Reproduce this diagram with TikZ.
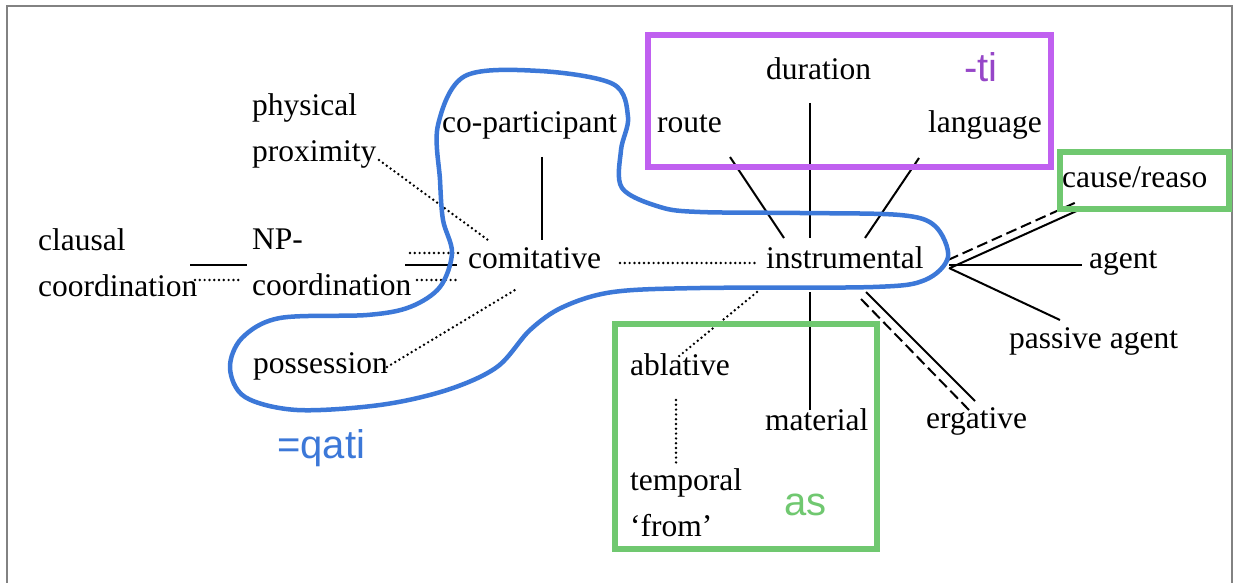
\documentclass[tikz,border=0pt]{standalone}
\usepackage{fontspec}
\setmainfont{Liberation Serif}
\newfontfamily\annfont{Liberation Sans}
\definecolor{qblue}{RGB}{60,120,216}
\definecolor{tiboxc}{RGB}{192,96,240}
\definecolor{titextc}{RGB}{150,70,200}
\definecolor{asgreen}{RGB}{112,200,112}
\definecolor{framegray}{RGB}{130,130,130}
\begin{document}
\begin{tikzpicture}[x=1pt,y=-1pt,
  lbl/.style={inner sep=0pt, anchor=base west, font=\fontsize{31.5}{46}\selectfont},
  lbltwo/.style={inner sep=0pt, anchor=north west, align=left, font=\fontsize{31.5}{46}\selectfont},
  solidline/.style={line width=2pt},
  dotline/.style={line width=2.7pt, line cap=round, dash pattern=on 0pt off 4.8pt},
  dashline/.style={line width=2pt, dash pattern=on 11pt off 5pt},
  ann/.style={inner sep=0pt, anchor=base west, font=\annfont\fontsize{40}{40}\selectfont},
  boxline/.style={line width=6.5pt},
]
\useasboundingbox (0,0) rectangle (1234,583);
\fill[white] (0,0) rectangle (1234,583);
\draw[framegray, line width=1.5pt] (7,583) -- (7,6) -- (1232,6) -- (1232,583);

% labels
\node[lbltwo] (phys) at (252,93.5) {physical\\proximity};
\node[lbltwo] (claus) at (38,228.5) {clausal\\coordination};
\node[lbltwo] (npco) at (252,229) {NP-\\coordination};
\node[lbl] (copart) at (442,133) {co-participant};
\node[lbl] (comit) at (468,268) {comitative};
\node[lbl] (instr) at (766,268) {instrumental};
\node[lbl] (route) at (657,133) {route};
\node[lbl] (dur) at (766,80) {duration};
\node[lbl] (lang) at (928,133) {language};
\node[lbl] (cause) at (1062,187) {cause/reaso};
\node[lbl] (agent) at (1089,268) {agent};
\node[lbl] (pass) at (1009,348) {passive agent};
\node[lbl] (poss) at (253,373) {possession};
\node[lbl] (abl) at (630,375) {ablative};
\node[lbl] (mat) at (765,430) {material};
\node[lbl] (erg) at (926,428) {ergative};
\node[lbltwo] (temp) at (630,468.5) {temporal\\‘from’};

% connector end points
\coordinate (hub) at (949,265);
\coordinate (cl-s) at (190,265); \coordinate (np-s) at (247,265);
\coordinate (cl-d) at (195,280); \coordinate (np-d) at (240,280);
\coordinate (np-d1) at (410,253); \coordinate (cm-d1) at (460,253);
\coordinate (np-s2) at (405,265); \coordinate (cm-s2) at (457,265);
\coordinate (np-d3) at (417,280); \coordinate (cm-d3) at (460,280);
\coordinate (px-e) at (379,160); \coordinate (cm-px) at (488,240);
\coordinate (cp-s) at (542,157); \coordinate (cm-cp) at (542,240);
\coordinate (po-e) at (387,367); \coordinate (cm-po) at (515,290);
\coordinate (cm-e) at (620,263); \coordinate (in-w) at (757,263);
\coordinate (ro-s) at (730,157); \coordinate (in-ro) at (784,238);
\coordinate (du-s) at (810,103); \coordinate (in-du) at (810,238);
\coordinate (la-s) at (919,158); \coordinate (in-la) at (865,238);
\coordinate (in-ma) at (810,292); \coordinate (ma-n) at (810,410);
\coordinate (in-ab) at (757,292); \coordinate (ab-n) at (678,357);
\coordinate (ab-s) at (676,400); \coordinate (te-n) at (676,467);
\coordinate (ag-w) at (1082,265);
\coordinate (in-pa) at (949,268); \coordinate (pa-n) at (1060,320);
\coordinate (hub-cs) at (950,268); \coordinate (ca-s) at (1081,209);
\coordinate (hub-cd) at (948,260); \coordinate (ca-d) at (1079,201);
\coordinate (in-es) at (866,292); \coordinate (er-s) at (975,401);
\coordinate (in-ed) at (861,299); \coordinate (er-d) at (969,410);

% connectors
\draw[solidline] (cl-s) -- (np-s);
\draw[dotline] (cl-d) -- (np-d);
\draw[dotline] (np-d1) -- (cm-d1);
\draw[solidline] (np-s2) -- (cm-s2);
\draw[dotline] (np-d3) -- (cm-d3);
\draw[dotline] (px-e) -- (cm-px);
\draw[solidline] (cp-s) -- (cm-cp);
\draw[dotline] (po-e) -- (cm-po);
\draw[dotline] (cm-e) -- (in-w);
\draw[solidline] (ro-s) -- (in-ro);
\draw[solidline] (du-s) -- (in-du);
\draw[solidline] (la-s) -- (in-la);
\draw[solidline] (in-ma) -- (ma-n);
\draw[dotline] (in-ab) -- (ab-n);
\draw[dotline] (ab-s) -- (te-n);
\draw[solidline] (hub) -- (ag-w);
\draw[solidline] (in-pa) -- (pa-n);
\draw[solidline] (hub-cs) -- (ca-s);
\draw[dashline] (hub-cd) -- (ca-d);
\draw[solidline] (in-es) -- (er-s);
\draw[dashline] (in-ed) -- (er-d);

% annotation boxes
\draw[tiboxc, boxline] (648,35) rectangle (1051,167);
\draw[asgreen, boxline] (1060,152) rectangle (1229,209);
\draw[asgreen, boxline] (615,324) rectangle (877,549);

% blue outline
\draw[qblue, line width=4.5pt, line join=round] plot[smooth cycle, tension=0.55] coordinates {
  (438,125) (465,76) (540,71) (613,84) (628,117) (621,150) (622,188) (660,207)
  (700,212) (800,213) (900,215) (935,226) (948,257) (925,280) (873,287) (700,288)
  (613,292) (563,307) (530,330) (497,367) (447,390) (380,405) (297,410) (245,397)
  (230,368) (242,338) (280,318) (367,315) (410,307) (440,287) (452,253) (443,220) (440,180)};

% annotation texts
\node[ann, text=qblue] (qati) at (277,458) {=qati};
\node[ann, text=titextc] (ti) at (964,82) {-ti};
\node[ann, text=asgreen] (as) at (784,515) {as};
\end{tikzpicture}
\end{document}
